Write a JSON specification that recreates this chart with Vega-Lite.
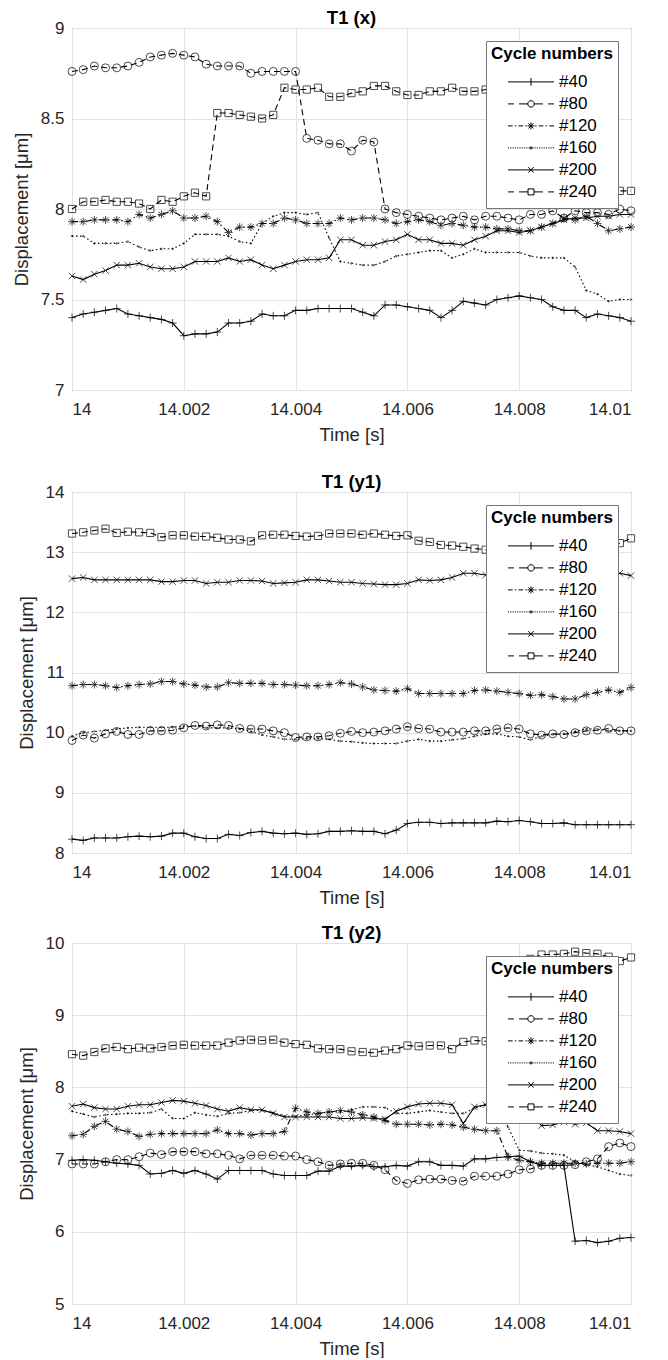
{
"$schema": "https://vega.github.io/schema/vega-lite/v6.json",
"background": "white",
"padding": {"left": 11, "top": 8, "right": 10, "bottom": 0},
"spacing": 16,
"config": {
  "font": "Liberation Sans",
  "view": {"stroke": "#555555", "strokeWidth": 1},
  "axis": {"grid": true, "gridColor": "#e2e2e2", "gridWidth": 1, "domain": false, "ticks": false, "labelFontSize": 17, "labelColor": "#262626", "titleFontSize": 18.5, "titleFontWeight": "normal", "titleColor": "#262626"},
  "axisX": {"labelPadding": 11, "titlePadding": 8},
  "axisY": {"labelPadding": 8, "titlePadding": 9},
  "title": {"fontSize": 18.5, "fontWeight": "bold", "color": "black", "offset": -8, "baseline": "alphabetic"},
  "point": {"filled": false, "color": "black", "size": 64, "strokeWidth": 1},
  "line": {"color": "black", "strokeWidth": 1.1},
  "legend": {"orient": "top-right", "offset": 13, "fillColor": "white", "strokeColor": "#777777", "padding": 5, "titleFontSize": 17, "titleFontWeight": "bold", "titleColor": "black", "titlePadding": 8, "labelFontSize": 17, "labelColor": "black", "symbolSize": 2116, "symbolStrokeWidth": 1, "symbolStrokeColor": "black", "symbolFillColor": "transparent", "symbolOpacity": 1, "clipHeight": 21.8, "rowPadding": 0, "labelOffset": 4.5, "symbolOffset": 16.5, "zindex": 1}
},
"resolve": {"scale": {"shape": "independent"}, "legend": {"shape": "independent"}},
"datasets": {
"px": [
{"t":14,"c":"#40","v":7.40},{"t":14.0002,"c":"#40","v":7.42},{"t":14.0004,"c":"#40","v":7.43},{"t":14.0006,"c":"#40","v":7.44},{"t":14.0008,"c":"#40","v":7.45},{"t":14.001,"c":"#40","v":7.42},{"t":14.0012,"c":"#40","v":7.41},{"t":14.0014,"c":"#40","v":7.40},{"t":14.0016,"c":"#40","v":7.39},{"t":14.0018,"c":"#40","v":7.37},{"t":14.002,"c":"#40","v":7.30},{"t":14.0022,"c":"#40","v":7.31},{"t":14.0024,"c":"#40","v":7.31},{"t":14.0026,"c":"#40","v":7.32},{"t":14.0028,"c":"#40","v":7.37},{"t":14.003,"c":"#40","v":7.37},{"t":14.0032,"c":"#40","v":7.38},{"t":14.0034,"c":"#40","v":7.42},{"t":14.0036,"c":"#40","v":7.41},{"t":14.0038,"c":"#40","v":7.41},{"t":14.004,"c":"#40","v":7.44},{"t":14.0042,"c":"#40","v":7.44},{"t":14.0044,"c":"#40","v":7.45},{"t":14.0046,"c":"#40","v":7.45},{"t":14.0048,"c":"#40","v":7.45},{"t":14.005,"c":"#40","v":7.45},{"t":14.0052,"c":"#40","v":7.43},{"t":14.0054,"c":"#40","v":7.41},{"t":14.0056,"c":"#40","v":7.47},{"t":14.0058,"c":"#40","v":7.47},{"t":14.006,"c":"#40","v":7.46},{"t":14.0062,"c":"#40","v":7.45},{"t":14.0064,"c":"#40","v":7.44},{"t":14.0066,"c":"#40","v":7.40},{"t":14.0068,"c":"#40","v":7.44},{"t":14.007,"c":"#40","v":7.49},{"t":14.0072,"c":"#40","v":7.48},{"t":14.0074,"c":"#40","v":7.47},{"t":14.0076,"c":"#40","v":7.50},{"t":14.0078,"c":"#40","v":7.51},{"t":14.008,"c":"#40","v":7.52},{"t":14.0082,"c":"#40","v":7.51},{"t":14.0084,"c":"#40","v":7.50},{"t":14.0086,"c":"#40","v":7.46},{"t":14.0088,"c":"#40","v":7.44},{"t":14.009,"c":"#40","v":7.44},{"t":14.0092,"c":"#40","v":7.40},{"t":14.0094,"c":"#40","v":7.42},{"t":14.0096,"c":"#40","v":7.41},{"t":14.0098,"c":"#40","v":7.40},{"t":14.01,"c":"#40","v":7.38},
{"t":14,"c":"#80","v":8.76},{"t":14.0002,"c":"#80","v":8.77},{"t":14.0004,"c":"#80","v":8.79},{"t":14.0006,"c":"#80","v":8.78},{"t":14.0008,"c":"#80","v":8.78},{"t":14.001,"c":"#80","v":8.79},{"t":14.0012,"c":"#80","v":8.81},{"t":14.0014,"c":"#80","v":8.84},{"t":14.0016,"c":"#80","v":8.85},{"t":14.0018,"c":"#80","v":8.86},{"t":14.002,"c":"#80","v":8.85},{"t":14.0022,"c":"#80","v":8.84},{"t":14.0024,"c":"#80","v":8.80},{"t":14.0026,"c":"#80","v":8.79},{"t":14.0028,"c":"#80","v":8.79},{"t":14.003,"c":"#80","v":8.79},{"t":14.0032,"c":"#80","v":8.75},{"t":14.0034,"c":"#80","v":8.76},{"t":14.0036,"c":"#80","v":8.76},{"t":14.0038,"c":"#80","v":8.76},{"t":14.004,"c":"#80","v":8.76},{"t":14.0042,"c":"#80","v":8.39},{"t":14.0044,"c":"#80","v":8.38},{"t":14.0046,"c":"#80","v":8.36},{"t":14.0048,"c":"#80","v":8.36},{"t":14.005,"c":"#80","v":8.32},{"t":14.0052,"c":"#80","v":8.38},{"t":14.0054,"c":"#80","v":8.37},{"t":14.0056,"c":"#80","v":8.00},{"t":14.0058,"c":"#80","v":7.98},{"t":14.006,"c":"#80","v":7.97},{"t":14.0062,"c":"#80","v":7.96},{"t":14.0064,"c":"#80","v":7.95},{"t":14.0066,"c":"#80","v":7.94},{"t":14.0068,"c":"#80","v":7.95},{"t":14.007,"c":"#80","v":7.96},{"t":14.0072,"c":"#80","v":7.94},{"t":14.0074,"c":"#80","v":7.96},{"t":14.0076,"c":"#80","v":7.96},{"t":14.0078,"c":"#80","v":7.95},{"t":14.008,"c":"#80","v":7.94},{"t":14.0082,"c":"#80","v":7.97},{"t":14.0084,"c":"#80","v":7.97},{"t":14.0086,"c":"#80","v":7.99},{"t":14.0088,"c":"#80","v":7.95},{"t":14.009,"c":"#80","v":7.99},{"t":14.0092,"c":"#80","v":7.98},{"t":14.0094,"c":"#80","v":7.98},{"t":14.0096,"c":"#80","v":7.97},{"t":14.0098,"c":"#80","v":8.00},{"t":14.01,"c":"#80","v":7.99},
{"t":14,"c":"#120","v":7.93},{"t":14.0002,"c":"#120","v":7.93},{"t":14.0004,"c":"#120","v":7.94},{"t":14.0006,"c":"#120","v":7.94},{"t":14.0008,"c":"#120","v":7.94},{"t":14.001,"c":"#120","v":7.93},{"t":14.0012,"c":"#120","v":7.97},{"t":14.0014,"c":"#120","v":7.95},{"t":14.0016,"c":"#120","v":7.97},{"t":14.0018,"c":"#120","v":7.99},{"t":14.002,"c":"#120","v":7.95},{"t":14.0022,"c":"#120","v":7.95},{"t":14.0024,"c":"#120","v":7.96},{"t":14.0026,"c":"#120","v":7.93},{"t":14.0028,"c":"#120","v":7.87},{"t":14.003,"c":"#120","v":7.90},{"t":14.0032,"c":"#120","v":7.90},{"t":14.0034,"c":"#120","v":7.92},{"t":14.0036,"c":"#120","v":7.92},{"t":14.0038,"c":"#120","v":7.95},{"t":14.004,"c":"#120","v":7.94},{"t":14.0042,"c":"#120","v":7.92},{"t":14.0044,"c":"#120","v":7.92},{"t":14.0046,"c":"#120","v":7.92},{"t":14.0048,"c":"#120","v":7.95},{"t":14.005,"c":"#120","v":7.94},{"t":14.0052,"c":"#120","v":7.95},{"t":14.0054,"c":"#120","v":7.95},{"t":14.0056,"c":"#120","v":7.94},{"t":14.0058,"c":"#120","v":7.92},{"t":14.006,"c":"#120","v":7.93},{"t":14.0062,"c":"#120","v":7.94},{"t":14.0064,"c":"#120","v":7.93},{"t":14.0066,"c":"#120","v":7.91},{"t":14.0068,"c":"#120","v":7.92},{"t":14.007,"c":"#120","v":7.91},{"t":14.0072,"c":"#120","v":7.90},{"t":14.0074,"c":"#120","v":7.90},{"t":14.0076,"c":"#120","v":7.89},{"t":14.0078,"c":"#120","v":7.89},{"t":14.008,"c":"#120","v":7.88},{"t":14.0082,"c":"#120","v":7.88},{"t":14.0084,"c":"#120","v":7.90},{"t":14.0086,"c":"#120","v":7.92},{"t":14.0088,"c":"#120","v":7.95},{"t":14.009,"c":"#120","v":7.94},{"t":14.0092,"c":"#120","v":7.96},{"t":14.0094,"c":"#120","v":7.92},{"t":14.0096,"c":"#120","v":7.88},{"t":14.0098,"c":"#120","v":7.89},{"t":14.01,"c":"#120","v":7.90},
{"t":14,"c":"#160","v":7.85},{"t":14.0002,"c":"#160","v":7.85},{"t":14.0004,"c":"#160","v":7.81},{"t":14.0006,"c":"#160","v":7.81},{"t":14.0008,"c":"#160","v":7.81},{"t":14.001,"c":"#160","v":7.82},{"t":14.0012,"c":"#160","v":7.79},{"t":14.0014,"c":"#160","v":7.77},{"t":14.0016,"c":"#160","v":7.78},{"t":14.0018,"c":"#160","v":7.78},{"t":14.002,"c":"#160","v":7.81},{"t":14.0022,"c":"#160","v":7.86},{"t":14.0024,"c":"#160","v":7.86},{"t":14.0026,"c":"#160","v":7.86},{"t":14.0028,"c":"#160","v":7.85},{"t":14.003,"c":"#160","v":7.82},{"t":14.0032,"c":"#160","v":7.81},{"t":14.0034,"c":"#160","v":7.92},{"t":14.0036,"c":"#160","v":7.96},{"t":14.0038,"c":"#160","v":7.98},{"t":14.004,"c":"#160","v":7.98},{"t":14.0042,"c":"#160","v":7.97},{"t":14.0044,"c":"#160","v":7.98},{"t":14.0046,"c":"#160","v":7.84},{"t":14.0048,"c":"#160","v":7.71},{"t":14.005,"c":"#160","v":7.70},{"t":14.0052,"c":"#160","v":7.69},{"t":14.0054,"c":"#160","v":7.69},{"t":14.0056,"c":"#160","v":7.71},{"t":14.0058,"c":"#160","v":7.74},{"t":14.006,"c":"#160","v":7.75},{"t":14.0062,"c":"#160","v":7.76},{"t":14.0064,"c":"#160","v":7.77},{"t":14.0066,"c":"#160","v":7.77},{"t":14.0068,"c":"#160","v":7.73},{"t":14.007,"c":"#160","v":7.75},{"t":14.0072,"c":"#160","v":7.78},{"t":14.0074,"c":"#160","v":7.76},{"t":14.0076,"c":"#160","v":7.76},{"t":14.0078,"c":"#160","v":7.76},{"t":14.008,"c":"#160","v":7.76},{"t":14.0082,"c":"#160","v":7.74},{"t":14.0084,"c":"#160","v":7.73},{"t":14.0086,"c":"#160","v":7.73},{"t":14.0088,"c":"#160","v":7.73},{"t":14.009,"c":"#160","v":7.68},{"t":14.0092,"c":"#160","v":7.55},{"t":14.0094,"c":"#160","v":7.53},{"t":14.0096,"c":"#160","v":7.49},{"t":14.0098,"c":"#160","v":7.50},{"t":14.01,"c":"#160","v":7.50},
{"t":14,"c":"#200","v":7.63},{"t":14.0002,"c":"#200","v":7.61},{"t":14.0004,"c":"#200","v":7.64},{"t":14.0006,"c":"#200","v":7.66},{"t":14.0008,"c":"#200","v":7.69},{"t":14.001,"c":"#200","v":7.69},{"t":14.0012,"c":"#200","v":7.70},{"t":14.0014,"c":"#200","v":7.68},{"t":14.0016,"c":"#200","v":7.67},{"t":14.0018,"c":"#200","v":7.67},{"t":14.002,"c":"#200","v":7.68},{"t":14.0022,"c":"#200","v":7.71},{"t":14.0024,"c":"#200","v":7.71},{"t":14.0026,"c":"#200","v":7.71},{"t":14.0028,"c":"#200","v":7.73},{"t":14.003,"c":"#200","v":7.71},{"t":14.0032,"c":"#200","v":7.72},{"t":14.0034,"c":"#200","v":7.69},{"t":14.0036,"c":"#200","v":7.67},{"t":14.0038,"c":"#200","v":7.69},{"t":14.004,"c":"#200","v":7.71},{"t":14.0042,"c":"#200","v":7.72},{"t":14.0044,"c":"#200","v":7.72},{"t":14.0046,"c":"#200","v":7.73},{"t":14.0048,"c":"#200","v":7.83},{"t":14.005,"c":"#200","v":7.83},{"t":14.0052,"c":"#200","v":7.80},{"t":14.0054,"c":"#200","v":7.80},{"t":14.0056,"c":"#200","v":7.82},{"t":14.0058,"c":"#200","v":7.83},{"t":14.006,"c":"#200","v":7.86},{"t":14.0062,"c":"#200","v":7.83},{"t":14.0064,"c":"#200","v":7.83},{"t":14.0066,"c":"#200","v":7.81},{"t":14.0068,"c":"#200","v":7.81},{"t":14.007,"c":"#200","v":7.80},{"t":14.0072,"c":"#200","v":7.83},{"t":14.0074,"c":"#200","v":7.85},{"t":14.0076,"c":"#200","v":7.88},{"t":14.0078,"c":"#200","v":7.88},{"t":14.008,"c":"#200","v":7.87},{"t":14.0082,"c":"#200","v":7.88},{"t":14.0084,"c":"#200","v":7.90},{"t":14.0086,"c":"#200","v":7.92},{"t":14.0088,"c":"#200","v":7.94},{"t":14.009,"c":"#200","v":7.95},{"t":14.0092,"c":"#200","v":7.95},{"t":14.0094,"c":"#200","v":7.96},{"t":14.0096,"c":"#200","v":7.96},{"t":14.0098,"c":"#200","v":7.97},{"t":14.01,"c":"#200","v":7.97},
{"t":14,"c":"#240","v":8.00},{"t":14.0002,"c":"#240","v":8.04},{"t":14.0004,"c":"#240","v":8.04},{"t":14.0006,"c":"#240","v":8.05},{"t":14.0008,"c":"#240","v":8.04},{"t":14.001,"c":"#240","v":8.04},{"t":14.0012,"c":"#240","v":8.03},{"t":14.0014,"c":"#240","v":8.00},{"t":14.0016,"c":"#240","v":8.05},{"t":14.0018,"c":"#240","v":8.04},{"t":14.002,"c":"#240","v":8.07},{"t":14.0022,"c":"#240","v":8.09},{"t":14.0024,"c":"#240","v":8.07},{"t":14.0026,"c":"#240","v":8.53},{"t":14.0028,"c":"#240","v":8.53},{"t":14.003,"c":"#240","v":8.52},{"t":14.0032,"c":"#240","v":8.51},{"t":14.0034,"c":"#240","v":8.50},{"t":14.0036,"c":"#240","v":8.52},{"t":14.0038,"c":"#240","v":8.67},{"t":14.004,"c":"#240","v":8.66},{"t":14.0042,"c":"#240","v":8.66},{"t":14.0044,"c":"#240","v":8.67},{"t":14.0046,"c":"#240","v":8.62},{"t":14.0048,"c":"#240","v":8.62},{"t":14.005,"c":"#240","v":8.64},{"t":14.0052,"c":"#240","v":8.65},{"t":14.0054,"c":"#240","v":8.68},{"t":14.0056,"c":"#240","v":8.68},{"t":14.0058,"c":"#240","v":8.65},{"t":14.006,"c":"#240","v":8.63},{"t":14.0062,"c":"#240","v":8.63},{"t":14.0064,"c":"#240","v":8.65},{"t":14.0066,"c":"#240","v":8.65},{"t":14.0068,"c":"#240","v":8.67},{"t":14.007,"c":"#240","v":8.65},{"t":14.0072,"c":"#240","v":8.65},{"t":14.0074,"c":"#240","v":8.66},{"t":14.0076,"c":"#240","v":8.66},{"t":14.0078,"c":"#240","v":8.66},{"t":14.008,"c":"#240","v":8.66},{"t":14.0082,"c":"#240","v":8.66},{"t":14.0084,"c":"#240","v":8.66},{"t":14.0086,"c":"#240","v":8.66},{"t":14.0088,"c":"#240","v":8.66},{"t":14.009,"c":"#240","v":8.66},{"t":14.0092,"c":"#240","v":8.66},{"t":14.0094,"c":"#240","v":8.10},{"t":14.0096,"c":"#240","v":8.10},{"t":14.0098,"c":"#240","v":8.10},{"t":14.01,"c":"#240","v":8.10}
],
"py1": [
{"t":14,"c":"#40","v":8.23},{"t":14.0002,"c":"#40","v":8.21},{"t":14.0004,"c":"#40","v":8.25},{"t":14.0006,"c":"#40","v":8.25},{"t":14.0008,"c":"#40","v":8.25},{"t":14.001,"c":"#40","v":8.27},{"t":14.0012,"c":"#40","v":8.28},{"t":14.0014,"c":"#40","v":8.27},{"t":14.0016,"c":"#40","v":8.28},{"t":14.0018,"c":"#40","v":8.33},{"t":14.002,"c":"#40","v":8.33},{"t":14.0022,"c":"#40","v":8.27},{"t":14.0024,"c":"#40","v":8.24},{"t":14.0026,"c":"#40","v":8.24},{"t":14.0028,"c":"#40","v":8.31},{"t":14.003,"c":"#40","v":8.29},{"t":14.0032,"c":"#40","v":8.34},{"t":14.0034,"c":"#40","v":8.36},{"t":14.0036,"c":"#40","v":8.33},{"t":14.0038,"c":"#40","v":8.32},{"t":14.004,"c":"#40","v":8.33},{"t":14.0042,"c":"#40","v":8.31},{"t":14.0044,"c":"#40","v":8.32},{"t":14.0046,"c":"#40","v":8.36},{"t":14.0048,"c":"#40","v":8.36},{"t":14.005,"c":"#40","v":8.37},{"t":14.0052,"c":"#40","v":8.36},{"t":14.0054,"c":"#40","v":8.36},{"t":14.0056,"c":"#40","v":8.32},{"t":14.0058,"c":"#40","v":8.38},{"t":14.006,"c":"#40","v":8.49},{"t":14.0062,"c":"#40","v":8.51},{"t":14.0064,"c":"#40","v":8.51},{"t":14.0066,"c":"#40","v":8.49},{"t":14.0068,"c":"#40","v":8.50},{"t":14.007,"c":"#40","v":8.50},{"t":14.0072,"c":"#40","v":8.50},{"t":14.0074,"c":"#40","v":8.50},{"t":14.0076,"c":"#40","v":8.53},{"t":14.0078,"c":"#40","v":8.52},{"t":14.008,"c":"#40","v":8.54},{"t":14.0082,"c":"#40","v":8.52},{"t":14.0084,"c":"#40","v":8.49},{"t":14.0086,"c":"#40","v":8.49},{"t":14.0088,"c":"#40","v":8.50},{"t":14.009,"c":"#40","v":8.47},{"t":14.0092,"c":"#40","v":8.47},{"t":14.0094,"c":"#40","v":8.47},{"t":14.0096,"c":"#40","v":8.47},{"t":14.0098,"c":"#40","v":8.47},{"t":14.01,"c":"#40","v":8.47},
{"t":14,"c":"#80","v":9.87},{"t":14.0002,"c":"#80","v":9.96},{"t":14.0004,"c":"#80","v":9.91},{"t":14.0006,"c":"#80","v":9.98},{"t":14.0008,"c":"#80","v":10.02},{"t":14.001,"c":"#80","v":9.97},{"t":14.0012,"c":"#80","v":9.97},{"t":14.0014,"c":"#80","v":10.03},{"t":14.0016,"c":"#80","v":10.03},{"t":14.0018,"c":"#80","v":10.04},{"t":14.002,"c":"#80","v":10.08},{"t":14.0022,"c":"#80","v":10.12},{"t":14.0024,"c":"#80","v":10.11},{"t":14.0026,"c":"#80","v":10.13},{"t":14.0028,"c":"#80","v":10.12},{"t":14.003,"c":"#80","v":10.07},{"t":14.0032,"c":"#80","v":10.06},{"t":14.0034,"c":"#80","v":10.06},{"t":14.0036,"c":"#80","v":10.03},{"t":14.0038,"c":"#80","v":10.00},{"t":14.004,"c":"#80","v":9.92},{"t":14.0042,"c":"#80","v":9.93},{"t":14.0044,"c":"#80","v":9.93},{"t":14.0046,"c":"#80","v":9.95},{"t":14.0048,"c":"#80","v":9.99},{"t":14.005,"c":"#80","v":10.02},{"t":14.0052,"c":"#80","v":10.00},{"t":14.0054,"c":"#80","v":10.01},{"t":14.0056,"c":"#80","v":10.03},{"t":14.0058,"c":"#80","v":10.06},{"t":14.006,"c":"#80","v":10.10},{"t":14.0062,"c":"#80","v":10.07},{"t":14.0064,"c":"#80","v":10.06},{"t":14.0066,"c":"#80","v":10.01},{"t":14.0068,"c":"#80","v":10.01},{"t":14.007,"c":"#80","v":10.01},{"t":14.0072,"c":"#80","v":10.03},{"t":14.0074,"c":"#80","v":10.03},{"t":14.0076,"c":"#80","v":10.06},{"t":14.0078,"c":"#80","v":10.08},{"t":14.008,"c":"#80","v":10.06},{"t":14.0082,"c":"#80","v":9.98},{"t":14.0084,"c":"#80","v":9.96},{"t":14.0086,"c":"#80","v":9.98},{"t":14.0088,"c":"#80","v":9.97},{"t":14.009,"c":"#80","v":10.00},{"t":14.0092,"c":"#80","v":10.03},{"t":14.0094,"c":"#80","v":10.04},{"t":14.0096,"c":"#80","v":10.07},{"t":14.0098,"c":"#80","v":10.03},{"t":14.01,"c":"#80","v":10.03},
{"t":14,"c":"#120","v":10.78},{"t":14.0002,"c":"#120","v":10.80},{"t":14.0004,"c":"#120","v":10.80},{"t":14.0006,"c":"#120","v":10.78},{"t":14.0008,"c":"#120","v":10.75},{"t":14.001,"c":"#120","v":10.78},{"t":14.0012,"c":"#120","v":10.80},{"t":14.0014,"c":"#120","v":10.81},{"t":14.0016,"c":"#120","v":10.85},{"t":14.0018,"c":"#120","v":10.85},{"t":14.002,"c":"#120","v":10.81},{"t":14.0022,"c":"#120","v":10.79},{"t":14.0024,"c":"#120","v":10.76},{"t":14.0026,"c":"#120","v":10.76},{"t":14.0028,"c":"#120","v":10.83},{"t":14.003,"c":"#120","v":10.82},{"t":14.0032,"c":"#120","v":10.82},{"t":14.0034,"c":"#120","v":10.82},{"t":14.0036,"c":"#120","v":10.80},{"t":14.0038,"c":"#120","v":10.80},{"t":14.004,"c":"#120","v":10.79},{"t":14.0042,"c":"#120","v":10.78},{"t":14.0044,"c":"#120","v":10.78},{"t":14.0046,"c":"#120","v":10.80},{"t":14.0048,"c":"#120","v":10.83},{"t":14.005,"c":"#120","v":10.81},{"t":14.0052,"c":"#120","v":10.76},{"t":14.0054,"c":"#120","v":10.71},{"t":14.0056,"c":"#120","v":10.70},{"t":14.0058,"c":"#120","v":10.69},{"t":14.006,"c":"#120","v":10.73},{"t":14.0062,"c":"#120","v":10.65},{"t":14.0064,"c":"#120","v":10.65},{"t":14.0066,"c":"#120","v":10.65},{"t":14.0068,"c":"#120","v":10.65},{"t":14.007,"c":"#120","v":10.65},{"t":14.0072,"c":"#120","v":10.70},{"t":14.0074,"c":"#120","v":10.71},{"t":14.0076,"c":"#120","v":10.69},{"t":14.0078,"c":"#120","v":10.67},{"t":14.008,"c":"#120","v":10.65},{"t":14.0082,"c":"#120","v":10.62},{"t":14.0084,"c":"#120","v":10.63},{"t":14.0086,"c":"#120","v":10.60},{"t":14.0088,"c":"#120","v":10.56},{"t":14.009,"c":"#120","v":10.56},{"t":14.0092,"c":"#120","v":10.63},{"t":14.0094,"c":"#120","v":10.67},{"t":14.0096,"c":"#120","v":10.71},{"t":14.0098,"c":"#120","v":10.67},{"t":14.01,"c":"#120","v":10.75},
{"t":14,"c":"#160","v":9.94},{"t":14.0002,"c":"#160","v":10.00},{"t":14.0004,"c":"#160","v":10.02},{"t":14.0006,"c":"#160","v":10.04},{"t":14.0008,"c":"#160","v":10.06},{"t":14.001,"c":"#160","v":10.08},{"t":14.0012,"c":"#160","v":10.09},{"t":14.0014,"c":"#160","v":10.09},{"t":14.0016,"c":"#160","v":10.09},{"t":14.0018,"c":"#160","v":10.09},{"t":14.002,"c":"#160","v":10.11},{"t":14.0022,"c":"#160","v":10.11},{"t":14.0024,"c":"#160","v":10.08},{"t":14.0026,"c":"#160","v":10.08},{"t":14.0028,"c":"#160","v":10.08},{"t":14.003,"c":"#160","v":10.06},{"t":14.0032,"c":"#160","v":10.02},{"t":14.0034,"c":"#160","v":9.96},{"t":14.0036,"c":"#160","v":9.93},{"t":14.0038,"c":"#160","v":9.89},{"t":14.004,"c":"#160","v":9.89},{"t":14.0042,"c":"#160","v":9.90},{"t":14.0044,"c":"#160","v":9.90},{"t":14.0046,"c":"#160","v":9.89},{"t":14.0048,"c":"#160","v":9.86},{"t":14.005,"c":"#160","v":9.85},{"t":14.0052,"c":"#160","v":9.83},{"t":14.0054,"c":"#160","v":9.82},{"t":14.0056,"c":"#160","v":9.82},{"t":14.0058,"c":"#160","v":9.82},{"t":14.006,"c":"#160","v":9.86},{"t":14.0062,"c":"#160","v":9.89},{"t":14.0064,"c":"#160","v":9.86},{"t":14.0066,"c":"#160","v":9.86},{"t":14.0068,"c":"#160","v":9.88},{"t":14.007,"c":"#160","v":9.90},{"t":14.0072,"c":"#160","v":9.94},{"t":14.0074,"c":"#160","v":9.98},{"t":14.0076,"c":"#160","v":9.98},{"t":14.0078,"c":"#160","v":9.94},{"t":14.008,"c":"#160","v":9.93},{"t":14.0082,"c":"#160","v":9.88},{"t":14.0084,"c":"#160","v":9.94},{"t":14.0086,"c":"#160","v":9.97},{"t":14.0088,"c":"#160","v":9.98},{"t":14.009,"c":"#160","v":10.02},{"t":14.0092,"c":"#160","v":10.06},{"t":14.0094,"c":"#160","v":10.06},{"t":14.0096,"c":"#160","v":10.03},{"t":14.0098,"c":"#160","v":10.03},{"t":14.01,"c":"#160","v":10.03},
{"t":14,"c":"#200","v":12.56},{"t":14.0002,"c":"#200","v":12.58},{"t":14.0004,"c":"#200","v":12.54},{"t":14.0006,"c":"#200","v":12.54},{"t":14.0008,"c":"#200","v":12.54},{"t":14.001,"c":"#200","v":12.54},{"t":14.0012,"c":"#200","v":12.54},{"t":14.0014,"c":"#200","v":12.54},{"t":14.0016,"c":"#200","v":12.51},{"t":14.0018,"c":"#200","v":12.51},{"t":14.002,"c":"#200","v":12.53},{"t":14.0022,"c":"#200","v":12.53},{"t":14.0024,"c":"#200","v":12.48},{"t":14.0026,"c":"#200","v":12.50},{"t":14.0028,"c":"#200","v":12.50},{"t":14.003,"c":"#200","v":12.53},{"t":14.0032,"c":"#200","v":12.53},{"t":14.0034,"c":"#200","v":12.52},{"t":14.0036,"c":"#200","v":12.48},{"t":14.0038,"c":"#200","v":12.49},{"t":14.004,"c":"#200","v":12.50},{"t":14.0042,"c":"#200","v":12.54},{"t":14.0044,"c":"#200","v":12.54},{"t":14.0046,"c":"#200","v":12.52},{"t":14.0048,"c":"#200","v":12.50},{"t":14.005,"c":"#200","v":12.50},{"t":14.0052,"c":"#200","v":12.48},{"t":14.0054,"c":"#200","v":12.47},{"t":14.0056,"c":"#200","v":12.46},{"t":14.0058,"c":"#200","v":12.46},{"t":14.006,"c":"#200","v":12.48},{"t":14.0062,"c":"#200","v":12.54},{"t":14.0064,"c":"#200","v":12.53},{"t":14.0066,"c":"#200","v":12.54},{"t":14.0068,"c":"#200","v":12.58},{"t":14.007,"c":"#200","v":12.65},{"t":14.0072,"c":"#200","v":12.65},{"t":14.0074,"c":"#200","v":12.62},{"t":14.0076,"c":"#200","v":12.63},{"t":14.0078,"c":"#200","v":12.63},{"t":14.008,"c":"#200","v":12.63},{"t":14.0082,"c":"#200","v":12.63},{"t":14.0084,"c":"#200","v":12.63},{"t":14.0086,"c":"#200","v":12.63},{"t":14.0088,"c":"#200","v":12.63},{"t":14.009,"c":"#200","v":12.63},{"t":14.0092,"c":"#200","v":12.63},{"t":14.0094,"c":"#200","v":12.63},{"t":14.0096,"c":"#200","v":12.63},{"t":14.0098,"c":"#200","v":12.65},{"t":14.01,"c":"#200","v":12.61},
{"t":14,"c":"#240","v":13.31},{"t":14.0002,"c":"#240","v":13.33},{"t":14.0004,"c":"#240","v":13.36},{"t":14.0006,"c":"#240","v":13.39},{"t":14.0008,"c":"#240","v":13.32},{"t":14.001,"c":"#240","v":13.34},{"t":14.0012,"c":"#240","v":13.33},{"t":14.0014,"c":"#240","v":13.32},{"t":14.0016,"c":"#240","v":13.25},{"t":14.0018,"c":"#240","v":13.28},{"t":14.002,"c":"#240","v":13.28},{"t":14.0022,"c":"#240","v":13.26},{"t":14.0024,"c":"#240","v":13.26},{"t":14.0026,"c":"#240","v":13.24},{"t":14.0028,"c":"#240","v":13.21},{"t":14.003,"c":"#240","v":13.21},{"t":14.0032,"c":"#240","v":13.18},{"t":14.0034,"c":"#240","v":13.28},{"t":14.0036,"c":"#240","v":13.29},{"t":14.0038,"c":"#240","v":13.29},{"t":14.004,"c":"#240","v":13.27},{"t":14.0042,"c":"#240","v":13.26},{"t":14.0044,"c":"#240","v":13.27},{"t":14.0046,"c":"#240","v":13.31},{"t":14.0048,"c":"#240","v":13.31},{"t":14.005,"c":"#240","v":13.31},{"t":14.0052,"c":"#240","v":13.29},{"t":14.0054,"c":"#240","v":13.31},{"t":14.0056,"c":"#240","v":13.29},{"t":14.0058,"c":"#240","v":13.27},{"t":14.006,"c":"#240","v":13.28},{"t":14.0062,"c":"#240","v":13.19},{"t":14.0064,"c":"#240","v":13.17},{"t":14.0066,"c":"#240","v":13.12},{"t":14.0068,"c":"#240","v":13.11},{"t":14.007,"c":"#240","v":13.09},{"t":14.0072,"c":"#240","v":13.06},{"t":14.0074,"c":"#240","v":13.04},{"t":14.0076,"c":"#240","v":13.05},{"t":14.0078,"c":"#240","v":13.05},{"t":14.008,"c":"#240","v":13.05},{"t":14.0082,"c":"#240","v":13.05},{"t":14.0084,"c":"#240","v":13.05},{"t":14.0086,"c":"#240","v":13.05},{"t":14.0088,"c":"#240","v":13.05},{"t":14.009,"c":"#240","v":13.05},{"t":14.0092,"c":"#240","v":13.05},{"t":14.0094,"c":"#240","v":13.05},{"t":14.0096,"c":"#240","v":13.05},{"t":14.0098,"c":"#240","v":13.15},{"t":14.01,"c":"#240","v":13.23}
],
"py2": [
{"t":14,"c":"#40","v":6.99},{"t":14.0002,"c":"#40","v":7.00},{"t":14.0004,"c":"#40","v":6.99},{"t":14.0006,"c":"#40","v":6.97},{"t":14.0008,"c":"#40","v":6.95},{"t":14.001,"c":"#40","v":6.94},{"t":14.0012,"c":"#40","v":6.92},{"t":14.0014,"c":"#40","v":6.80},{"t":14.0016,"c":"#40","v":6.81},{"t":14.0018,"c":"#40","v":6.85},{"t":14.002,"c":"#40","v":6.81},{"t":14.0022,"c":"#40","v":6.85},{"t":14.0024,"c":"#40","v":6.80},{"t":14.0026,"c":"#40","v":6.73},{"t":14.0028,"c":"#40","v":6.85},{"t":14.003,"c":"#40","v":6.85},{"t":14.0032,"c":"#40","v":6.85},{"t":14.0034,"c":"#40","v":6.85},{"t":14.0036,"c":"#40","v":6.80},{"t":14.0038,"c":"#40","v":6.78},{"t":14.004,"c":"#40","v":6.78},{"t":14.0042,"c":"#40","v":6.78},{"t":14.0044,"c":"#40","v":6.84},{"t":14.0046,"c":"#40","v":6.84},{"t":14.0048,"c":"#40","v":6.91},{"t":14.005,"c":"#40","v":6.91},{"t":14.0052,"c":"#40","v":6.92},{"t":14.0054,"c":"#40","v":6.90},{"t":14.0056,"c":"#40","v":6.90},{"t":14.0058,"c":"#40","v":6.92},{"t":14.006,"c":"#40","v":6.91},{"t":14.0062,"c":"#40","v":6.97},{"t":14.0064,"c":"#40","v":6.97},{"t":14.0066,"c":"#40","v":6.92},{"t":14.0068,"c":"#40","v":6.92},{"t":14.007,"c":"#40","v":6.91},{"t":14.0072,"c":"#40","v":7.01},{"t":14.0074,"c":"#40","v":7.01},{"t":14.0076,"c":"#40","v":7.03},{"t":14.0078,"c":"#40","v":7.04},{"t":14.008,"c":"#40","v":7.05},{"t":14.0082,"c":"#40","v":6.97},{"t":14.0084,"c":"#40","v":6.92},{"t":14.0086,"c":"#40","v":6.92},{"t":14.0088,"c":"#40","v":6.92},{"t":14.009,"c":"#40","v":5.87},{"t":14.0092,"c":"#40","v":5.88},{"t":14.0094,"c":"#40","v":5.85},{"t":14.0096,"c":"#40","v":5.87},{"t":14.0098,"c":"#40","v":5.91},{"t":14.01,"c":"#40","v":5.92},
{"t":14,"c":"#80","v":6.94},{"t":14.0002,"c":"#80","v":6.94},{"t":14.0004,"c":"#80","v":6.94},{"t":14.0006,"c":"#80","v":6.97},{"t":14.0008,"c":"#80","v":7.00},{"t":14.001,"c":"#80","v":7.00},{"t":14.0012,"c":"#80","v":7.04},{"t":14.0014,"c":"#80","v":7.09},{"t":14.0016,"c":"#80","v":7.07},{"t":14.0018,"c":"#80","v":7.11},{"t":14.002,"c":"#80","v":7.11},{"t":14.0022,"c":"#80","v":7.11},{"t":14.0024,"c":"#80","v":7.08},{"t":14.0026,"c":"#80","v":7.08},{"t":14.0028,"c":"#80","v":7.06},{"t":14.003,"c":"#80","v":7.01},{"t":14.0032,"c":"#80","v":7.06},{"t":14.0034,"c":"#80","v":7.06},{"t":14.0036,"c":"#80","v":7.06},{"t":14.0038,"c":"#80","v":7.05},{"t":14.004,"c":"#80","v":7.05},{"t":14.0042,"c":"#80","v":7.00},{"t":14.0044,"c":"#80","v":6.97},{"t":14.0046,"c":"#80","v":6.92},{"t":14.0048,"c":"#80","v":6.94},{"t":14.005,"c":"#80","v":6.95},{"t":14.0052,"c":"#80","v":6.95},{"t":14.0054,"c":"#80","v":6.92},{"t":14.0056,"c":"#80","v":6.86},{"t":14.0058,"c":"#80","v":6.71},{"t":14.006,"c":"#80","v":6.67},{"t":14.0062,"c":"#80","v":6.72},{"t":14.0064,"c":"#80","v":6.73},{"t":14.0066,"c":"#80","v":6.73},{"t":14.0068,"c":"#80","v":6.71},{"t":14.007,"c":"#80","v":6.70},{"t":14.0072,"c":"#80","v":6.77},{"t":14.0074,"c":"#80","v":6.77},{"t":14.0076,"c":"#80","v":6.77},{"t":14.0078,"c":"#80","v":6.80},{"t":14.008,"c":"#80","v":6.86},{"t":14.0082,"c":"#80","v":6.87},{"t":14.0084,"c":"#80","v":6.92},{"t":14.0086,"c":"#80","v":6.92},{"t":14.0088,"c":"#80","v":6.92},{"t":14.009,"c":"#80","v":6.93},{"t":14.0092,"c":"#80","v":6.97},{"t":14.0094,"c":"#80","v":7.01},{"t":14.0096,"c":"#80","v":7.18},{"t":14.0098,"c":"#80","v":7.23},{"t":14.01,"c":"#80","v":7.18},
{"t":14,"c":"#120","v":7.33},{"t":14.0002,"c":"#120","v":7.35},{"t":14.0004,"c":"#120","v":7.46},{"t":14.0006,"c":"#120","v":7.53},{"t":14.0008,"c":"#120","v":7.42},{"t":14.001,"c":"#120","v":7.39},{"t":14.0012,"c":"#120","v":7.32},{"t":14.0014,"c":"#120","v":7.35},{"t":14.0016,"c":"#120","v":7.36},{"t":14.0018,"c":"#120","v":7.36},{"t":14.002,"c":"#120","v":7.36},{"t":14.0022,"c":"#120","v":7.36},{"t":14.0024,"c":"#120","v":7.36},{"t":14.0026,"c":"#120","v":7.41},{"t":14.0028,"c":"#120","v":7.36},{"t":14.003,"c":"#120","v":7.36},{"t":14.0032,"c":"#120","v":7.34},{"t":14.0034,"c":"#120","v":7.36},{"t":14.0036,"c":"#120","v":7.36},{"t":14.0038,"c":"#120","v":7.39},{"t":14.004,"c":"#120","v":7.71},{"t":14.0042,"c":"#120","v":7.66},{"t":14.0044,"c":"#120","v":7.64},{"t":14.0046,"c":"#120","v":7.66},{"t":14.0048,"c":"#120","v":7.68},{"t":14.005,"c":"#120","v":7.66},{"t":14.0052,"c":"#120","v":7.62},{"t":14.0054,"c":"#120","v":7.59},{"t":14.0056,"c":"#120","v":7.54},{"t":14.0058,"c":"#120","v":7.49},{"t":14.006,"c":"#120","v":7.49},{"t":14.0062,"c":"#120","v":7.49},{"t":14.0064,"c":"#120","v":7.48},{"t":14.0066,"c":"#120","v":7.49},{"t":14.0068,"c":"#120","v":7.48},{"t":14.007,"c":"#120","v":7.45},{"t":14.0072,"c":"#120","v":7.42},{"t":14.0074,"c":"#120","v":7.40},{"t":14.0076,"c":"#120","v":7.40},{"t":14.0078,"c":"#120","v":7.04},{"t":14.008,"c":"#120","v":6.99},{"t":14.0082,"c":"#120","v":6.97},{"t":14.0084,"c":"#120","v":6.95},{"t":14.0086,"c":"#120","v":6.95},{"t":14.0088,"c":"#120","v":6.95},{"t":14.009,"c":"#120","v":6.95},{"t":14.0092,"c":"#120","v":6.94},{"t":14.0094,"c":"#120","v":6.95},{"t":14.0096,"c":"#120","v":6.95},{"t":14.0098,"c":"#120","v":6.95},{"t":14.01,"c":"#120","v":6.97},
{"t":14,"c":"#160","v":7.67},{"t":14.0002,"c":"#160","v":7.63},{"t":14.0004,"c":"#160","v":7.59},{"t":14.0006,"c":"#160","v":7.62},{"t":14.0008,"c":"#160","v":7.63},{"t":14.001,"c":"#160","v":7.64},{"t":14.0012,"c":"#160","v":7.64},{"t":14.0014,"c":"#160","v":7.65},{"t":14.0016,"c":"#160","v":7.70},{"t":14.0018,"c":"#160","v":7.57},{"t":14.002,"c":"#160","v":7.57},{"t":14.0022,"c":"#160","v":7.65},{"t":14.0024,"c":"#160","v":7.62},{"t":14.0026,"c":"#160","v":7.60},{"t":14.0028,"c":"#160","v":7.64},{"t":14.003,"c":"#160","v":7.65},{"t":14.0032,"c":"#160","v":7.68},{"t":14.0034,"c":"#160","v":7.68},{"t":14.0036,"c":"#160","v":7.65},{"t":14.0038,"c":"#160","v":7.60},{"t":14.004,"c":"#160","v":7.60},{"t":14.0042,"c":"#160","v":7.62},{"t":14.0044,"c":"#160","v":7.64},{"t":14.0046,"c":"#160","v":7.66},{"t":14.0048,"c":"#160","v":7.66},{"t":14.005,"c":"#160","v":7.69},{"t":14.0052,"c":"#160","v":7.73},{"t":14.0054,"c":"#160","v":7.73},{"t":14.0056,"c":"#160","v":7.72},{"t":14.0058,"c":"#160","v":7.64},{"t":14.006,"c":"#160","v":7.64},{"t":14.0062,"c":"#160","v":7.66},{"t":14.0064,"c":"#160","v":7.68},{"t":14.0066,"c":"#160","v":7.66},{"t":14.0068,"c":"#160","v":7.64},{"t":14.007,"c":"#160","v":7.64},{"t":14.0072,"c":"#160","v":7.71},{"t":14.0074,"c":"#160","v":7.76},{"t":14.0076,"c":"#160","v":7.76},{"t":14.0078,"c":"#160","v":7.45},{"t":14.008,"c":"#160","v":7.13},{"t":14.0082,"c":"#160","v":7.12},{"t":14.0084,"c":"#160","v":7.09},{"t":14.0086,"c":"#160","v":7.08},{"t":14.0088,"c":"#160","v":7.06},{"t":14.009,"c":"#160","v":6.97},{"t":14.0092,"c":"#160","v":6.93},{"t":14.0094,"c":"#160","v":6.90},{"t":14.0096,"c":"#160","v":6.85},{"t":14.0098,"c":"#160","v":6.80},{"t":14.01,"c":"#160","v":6.78},
{"t":14,"c":"#200","v":7.74},{"t":14.0002,"c":"#200","v":7.77},{"t":14.0004,"c":"#200","v":7.72},{"t":14.0006,"c":"#200","v":7.70},{"t":14.0008,"c":"#200","v":7.70},{"t":14.001,"c":"#200","v":7.74},{"t":14.0012,"c":"#200","v":7.76},{"t":14.0014,"c":"#200","v":7.76},{"t":14.0016,"c":"#200","v":7.79},{"t":14.0018,"c":"#200","v":7.82},{"t":14.002,"c":"#200","v":7.81},{"t":14.0022,"c":"#200","v":7.78},{"t":14.0024,"c":"#200","v":7.75},{"t":14.0026,"c":"#200","v":7.70},{"t":14.0028,"c":"#200","v":7.67},{"t":14.003,"c":"#200","v":7.72},{"t":14.0032,"c":"#200","v":7.69},{"t":14.0034,"c":"#200","v":7.69},{"t":14.0036,"c":"#200","v":7.64},{"t":14.0038,"c":"#200","v":7.59},{"t":14.004,"c":"#200","v":7.59},{"t":14.0042,"c":"#200","v":7.59},{"t":14.0044,"c":"#200","v":7.59},{"t":14.0046,"c":"#200","v":7.59},{"t":14.0048,"c":"#200","v":7.57},{"t":14.005,"c":"#200","v":7.57},{"t":14.0052,"c":"#200","v":7.58},{"t":14.0054,"c":"#200","v":7.57},{"t":14.0056,"c":"#200","v":7.56},{"t":14.0058,"c":"#200","v":7.67},{"t":14.006,"c":"#200","v":7.73},{"t":14.0062,"c":"#200","v":7.77},{"t":14.0064,"c":"#200","v":7.78},{"t":14.0066,"c":"#200","v":7.78},{"t":14.0068,"c":"#200","v":7.76},{"t":14.007,"c":"#200","v":7.50},{"t":14.0072,"c":"#200","v":7.73},{"t":14.0074,"c":"#200","v":7.76},{"t":14.0076,"c":"#200","v":7.76},{"t":14.0078,"c":"#200","v":7.75},{"t":14.008,"c":"#200","v":7.73},{"t":14.0082,"c":"#200","v":7.65},{"t":14.0084,"c":"#200","v":7.47},{"t":14.0086,"c":"#200","v":7.48},{"t":14.0088,"c":"#200","v":7.52},{"t":14.009,"c":"#200","v":7.49},{"t":14.0092,"c":"#200","v":7.51},{"t":14.0094,"c":"#200","v":7.40},{"t":14.0096,"c":"#200","v":7.40},{"t":14.0098,"c":"#200","v":7.39},{"t":14.01,"c":"#200","v":7.36},
{"t":14,"c":"#240","v":8.46},{"t":14.0002,"c":"#240","v":8.44},{"t":14.0004,"c":"#240","v":8.49},{"t":14.0006,"c":"#240","v":8.54},{"t":14.0008,"c":"#240","v":8.56},{"t":14.001,"c":"#240","v":8.53},{"t":14.0012,"c":"#240","v":8.55},{"t":14.0014,"c":"#240","v":8.54},{"t":14.0016,"c":"#240","v":8.56},{"t":14.0018,"c":"#240","v":8.58},{"t":14.002,"c":"#240","v":8.59},{"t":14.0022,"c":"#240","v":8.58},{"t":14.0024,"c":"#240","v":8.58},{"t":14.0026,"c":"#240","v":8.58},{"t":14.0028,"c":"#240","v":8.62},{"t":14.003,"c":"#240","v":8.65},{"t":14.0032,"c":"#240","v":8.66},{"t":14.0034,"c":"#240","v":8.65},{"t":14.0036,"c":"#240","v":8.66},{"t":14.0038,"c":"#240","v":8.62},{"t":14.004,"c":"#240","v":8.60},{"t":14.0042,"c":"#240","v":8.59},{"t":14.0044,"c":"#240","v":8.54},{"t":14.0046,"c":"#240","v":8.53},{"t":14.0048,"c":"#240","v":8.53},{"t":14.005,"c":"#240","v":8.50},{"t":14.0052,"c":"#240","v":8.49},{"t":14.0054,"c":"#240","v":8.48},{"t":14.0056,"c":"#240","v":8.51},{"t":14.0058,"c":"#240","v":8.53},{"t":14.006,"c":"#240","v":8.58},{"t":14.0062,"c":"#240","v":8.57},{"t":14.0064,"c":"#240","v":8.58},{"t":14.0066,"c":"#240","v":8.58},{"t":14.0068,"c":"#240","v":8.53},{"t":14.007,"c":"#240","v":8.63},{"t":14.0072,"c":"#240","v":8.65},{"t":14.0074,"c":"#240","v":8.64},{"t":14.0076,"c":"#240","v":8.66},{"t":14.0078,"c":"#240","v":8.70},{"t":14.008,"c":"#240","v":9.50},{"t":14.0082,"c":"#240","v":9.78},{"t":14.0084,"c":"#240","v":9.84},{"t":14.0086,"c":"#240","v":9.84},{"t":14.0088,"c":"#240","v":9.85},{"t":14.009,"c":"#240","v":9.88},{"t":14.0092,"c":"#240","v":9.86},{"t":14.0094,"c":"#240","v":9.85},{"t":14.0096,"c":"#240","v":9.81},{"t":14.0098,"c":"#240","v":9.75},{"t":14.01,"c":"#240","v":9.80}
]
},
"vconcat": [
{
  "width": 559, "height": 362,
  "title": {"text": "T1 (x)"},
  "data": {"name": "px"},
  "encoding": {
    "x": {"field": "t", "type": "quantitative", "scale": {"domain": [14, 14.01], "nice": false, "zero": false}, "axis": {"title": ["Time [s]", " "], "titleLineHeight": 12, "values": [14, 14.002, 14.004, 14.006, 14.008, 14.01], "format": ".4~f"}},
    "y": {"field": "v", "type": "quantitative", "scale": {"domain": [7, 9], "nice": false, "zero": false}, "axis": {"title": "Displacement [μm]", "values": [7, 7.5, 8, 8.5, 9], "format": ".4~f"}}
  },
  "layer": [
    {"transform": [{"filter": "datum.c === '#40'"}], "mark": {"type": "line"}},
    {"transform": [{"filter": "datum.c === '#80'"}], "mark": {"type": "line", "strokeDash": [6, 4]}},
    {"transform": [{"filter": "datum.c === '#120'"}], "mark": {"type": "line", "strokeDash": [6, 3, 1.5, 3]}},
    {"transform": [{"filter": "datum.c === '#160'"}], "mark": {"type": "line", "strokeDash": [1.5, 2.5]}},
    {"transform": [{"filter": "datum.c === '#200'"}], "mark": {"type": "line"}},
    {"transform": [{"filter": "datum.c === '#240'"}], "mark": {"type": "line", "strokeDash": [6, 4]}},
    {"transform": [{"filter": "datum.c === '#40'"}], "mark": {"type": "point", "shape": "M-1,0H1M0,-1V1"}},
    {"transform": [{"filter": "datum.c === '#80'"}], "mark": {"type": "point", "shape": "circle"}},
    {"transform": [{"filter": "datum.c === '#120'"}], "mark": {"type": "point", "shape": "M-1,0H1M0,-1V1M-0.72,-0.72L0.72,0.72M-0.72,0.72L0.72,-0.72"}},
    {"transform": [{"filter": "datum.c === '#160'"}], "mark": {"type": "point", "shape": "M-0.2,0A0.2,0.2,0,1,1,0.2,0A0.2,0.2,0,1,1,-0.2,0"}},
    {"transform": [{"filter": "datum.c === '#200'"}], "mark": {"type": "point", "shape": "M-0.8,-0.8L0.8,0.8M-0.8,0.8L0.8,-0.8"}},
    {"transform": [{"filter": "datum.c === '#240'"}], "mark": {"type": "point", "shape": "square", "size": 52}},
    {"transform": [{"filter": "datum.t === 14"}], "mark": {"type": "point", "size": 0},
     "encoding": {"shape": {"field": "c", "type": "nominal", "scale": {"domain": ["#40","#80","#120","#160","#200","#240"], "range": ["M-1,0H1M0,-0.17V0.17", "M-1,0H-0.74M-0.52,0H-0.14M0.14,0H0.52M0.74,0H1M0.14,0A0.14,0.14,0,1,1,-0.14,0A0.14,0.14,0,1,1,0.14,0", "M-1,0H-0.8M-0.7,0H-0.64M-0.54,0H-0.34M-0.24,0H-0.18M0.18,0H0.24M0.34,0H0.54M0.64,0H0.7M0.8,0H1M-0.15,0H0.15M0,-0.15V0.15M-0.11,-0.11L0.11,0.11M-0.11,0.11L0.11,-0.11", "M-1,0H-0.95M-0.9,0H-0.85M-0.8,0H-0.75M-0.7,0H-0.65M-0.6,0H-0.55M-0.5,0H-0.45M-0.4,0H-0.35M-0.3,0H-0.25M-0.2,0H-0.15M-0.1,0H-0.05M0.05,0H0.1M0.15,0H0.2M0.25,0H0.3M0.35,0H0.4M0.45,0H0.5M0.55,0H0.6M0.65,0H0.7M0.75,0H0.8M0.85,0H0.9M0.95,0H1M-0.05,0A0.05,0.05,0,1,1,0.05,0A0.05,0.05,0,1,1,-0.05,0", "M-1,0H1M-0.12,-0.12L0.12,0.12M-0.12,0.12L0.12,-0.12", "M-1,0H-0.74M-0.52,0H-0.13M0.13,0H0.52M0.74,0H1M-0.13,-0.13H0.13V0.13H-0.13Z"]}, "legend": {"title": "Cycle numbers"}}}}
  ]
},
{
  "width": 559, "height": 361,
  "title": {"text": "T1 (y1)"},
  "data": {"name": "py1"},
  "encoding": {
    "x": {"field": "t", "type": "quantitative", "scale": {"domain": [14, 14.01], "nice": false, "zero": false}, "axis": {"title": "Time [s]", "values": [14, 14.002, 14.004, 14.006, 14.008, 14.01], "format": ".4~f"}},
    "y": {"field": "v", "type": "quantitative", "scale": {"domain": [8, 14], "nice": false, "zero": false}, "axis": {"title": "Displacement [μm]", "values": [8, 9, 10, 11, 12, 13, 14], "format": ".4~f"}}
  },
  "layer": [
    {"transform": [{"filter": "datum.c === '#40'"}], "mark": {"type": "line"}},
    {"transform": [{"filter": "datum.c === '#80'"}], "mark": {"type": "line", "strokeDash": [6, 4]}},
    {"transform": [{"filter": "datum.c === '#120'"}], "mark": {"type": "line", "strokeDash": [6, 3, 1.5, 3]}},
    {"transform": [{"filter": "datum.c === '#160'"}], "mark": {"type": "line", "strokeDash": [1.5, 2.5]}},
    {"transform": [{"filter": "datum.c === '#200'"}], "mark": {"type": "line"}},
    {"transform": [{"filter": "datum.c === '#240'"}], "mark": {"type": "line", "strokeDash": [6, 4]}},
    {"transform": [{"filter": "datum.c === '#40'"}], "mark": {"type": "point", "shape": "M-1,0H1M0,-1V1"}},
    {"transform": [{"filter": "datum.c === '#80'"}], "mark": {"type": "point", "shape": "circle"}},
    {"transform": [{"filter": "datum.c === '#120'"}], "mark": {"type": "point", "shape": "M-1,0H1M0,-1V1M-0.72,-0.72L0.72,0.72M-0.72,0.72L0.72,-0.72"}},
    {"transform": [{"filter": "datum.c === '#160'"}], "mark": {"type": "point", "shape": "M-0.2,0A0.2,0.2,0,1,1,0.2,0A0.2,0.2,0,1,1,-0.2,0"}},
    {"transform": [{"filter": "datum.c === '#200'"}], "mark": {"type": "point", "shape": "M-0.8,-0.8L0.8,0.8M-0.8,0.8L0.8,-0.8"}},
    {"transform": [{"filter": "datum.c === '#240'"}], "mark": {"type": "point", "shape": "square", "size": 52}},
    {"transform": [{"filter": "datum.t === 14"}], "mark": {"type": "point", "size": 0},
     "encoding": {"shape": {"field": "c", "type": "nominal", "scale": {"domain": ["#40","#80","#120","#160","#200","#240"], "range": ["M-1,0H1M0,-0.17V0.17", "M-1,0H-0.74M-0.52,0H-0.14M0.14,0H0.52M0.74,0H1M0.14,0A0.14,0.14,0,1,1,-0.14,0A0.14,0.14,0,1,1,0.14,0", "M-1,0H-0.8M-0.7,0H-0.64M-0.54,0H-0.34M-0.24,0H-0.18M0.18,0H0.24M0.34,0H0.54M0.64,0H0.7M0.8,0H1M-0.15,0H0.15M0,-0.15V0.15M-0.11,-0.11L0.11,0.11M-0.11,0.11L0.11,-0.11", "M-1,0H-0.95M-0.9,0H-0.85M-0.8,0H-0.75M-0.7,0H-0.65M-0.6,0H-0.55M-0.5,0H-0.45M-0.4,0H-0.35M-0.3,0H-0.25M-0.2,0H-0.15M-0.1,0H-0.05M0.05,0H0.1M0.15,0H0.2M0.25,0H0.3M0.35,0H0.4M0.45,0H0.5M0.55,0H0.6M0.65,0H0.7M0.75,0H0.8M0.85,0H0.9M0.95,0H1M-0.05,0A0.05,0.05,0,1,1,0.05,0A0.05,0.05,0,1,1,-0.05,0", "M-1,0H1M-0.12,-0.12L0.12,0.12M-0.12,0.12L0.12,-0.12", "M-1,0H-0.74M-0.52,0H-0.13M0.13,0H0.52M0.74,0H1M-0.13,-0.13H0.13V0.13H-0.13Z"]}, "legend": {"title": "Cycle numbers"}}}}
  ]
},
{
  "width": 559, "height": 361,
  "title": {"text": "T1 (y2)"},
  "data": {"name": "py2"},
  "encoding": {
    "x": {"field": "t", "type": "quantitative", "scale": {"domain": [14, 14.01], "nice": false, "zero": false}, "axis": {"title": "Time [s]", "values": [14, 14.002, 14.004, 14.006, 14.008, 14.01], "format": ".4~f"}},
    "y": {"field": "v", "type": "quantitative", "scale": {"domain": [5, 10], "nice": false, "zero": false}, "axis": {"title": "Displacement [μm]", "values": [5, 6, 7, 8, 9, 10], "format": ".4~f"}}
  },
  "layer": [
    {"transform": [{"filter": "datum.c === '#40'"}], "mark": {"type": "line"}},
    {"transform": [{"filter": "datum.c === '#80'"}], "mark": {"type": "line", "strokeDash": [6, 4]}},
    {"transform": [{"filter": "datum.c === '#120'"}], "mark": {"type": "line", "strokeDash": [6, 3, 1.5, 3]}},
    {"transform": [{"filter": "datum.c === '#160'"}], "mark": {"type": "line", "strokeDash": [1.5, 2.5]}},
    {"transform": [{"filter": "datum.c === '#200'"}], "mark": {"type": "line"}},
    {"transform": [{"filter": "datum.c === '#240'"}], "mark": {"type": "line", "strokeDash": [6, 4]}},
    {"transform": [{"filter": "datum.c === '#40'"}], "mark": {"type": "point", "shape": "M-1,0H1M0,-1V1"}},
    {"transform": [{"filter": "datum.c === '#80'"}], "mark": {"type": "point", "shape": "circle"}},
    {"transform": [{"filter": "datum.c === '#120'"}], "mark": {"type": "point", "shape": "M-1,0H1M0,-1V1M-0.72,-0.72L0.72,0.72M-0.72,0.72L0.72,-0.72"}},
    {"transform": [{"filter": "datum.c === '#160'"}], "mark": {"type": "point", "shape": "M-0.2,0A0.2,0.2,0,1,1,0.2,0A0.2,0.2,0,1,1,-0.2,0"}},
    {"transform": [{"filter": "datum.c === '#200'"}], "mark": {"type": "point", "shape": "M-0.8,-0.8L0.8,0.8M-0.8,0.8L0.8,-0.8"}},
    {"transform": [{"filter": "datum.c === '#240'"}], "mark": {"type": "point", "shape": "square", "size": 52}},
    {"transform": [{"filter": "datum.t === 14"}], "mark": {"type": "point", "size": 0},
     "encoding": {"shape": {"field": "c", "type": "nominal", "scale": {"domain": ["#40","#80","#120","#160","#200","#240"], "range": ["M-1,0H1M0,-0.17V0.17", "M-1,0H-0.74M-0.52,0H-0.14M0.14,0H0.52M0.74,0H1M0.14,0A0.14,0.14,0,1,1,-0.14,0A0.14,0.14,0,1,1,0.14,0", "M-1,0H-0.8M-0.7,0H-0.64M-0.54,0H-0.34M-0.24,0H-0.18M0.18,0H0.24M0.34,0H0.54M0.64,0H0.7M0.8,0H1M-0.15,0H0.15M0,-0.15V0.15M-0.11,-0.11L0.11,0.11M-0.11,0.11L0.11,-0.11", "M-1,0H-0.95M-0.9,0H-0.85M-0.8,0H-0.75M-0.7,0H-0.65M-0.6,0H-0.55M-0.5,0H-0.45M-0.4,0H-0.35M-0.3,0H-0.25M-0.2,0H-0.15M-0.1,0H-0.05M0.05,0H0.1M0.15,0H0.2M0.25,0H0.3M0.35,0H0.4M0.45,0H0.5M0.55,0H0.6M0.65,0H0.7M0.75,0H0.8M0.85,0H0.9M0.95,0H1M-0.05,0A0.05,0.05,0,1,1,0.05,0A0.05,0.05,0,1,1,-0.05,0", "M-1,0H1M-0.12,-0.12L0.12,0.12M-0.12,0.12L0.12,-0.12", "M-1,0H-0.74M-0.52,0H-0.13M0.13,0H0.52M0.74,0H1M-0.13,-0.13H0.13V0.13H-0.13Z"]}, "legend": {"title": "Cycle numbers"}}}}
  ]
}
]
}
